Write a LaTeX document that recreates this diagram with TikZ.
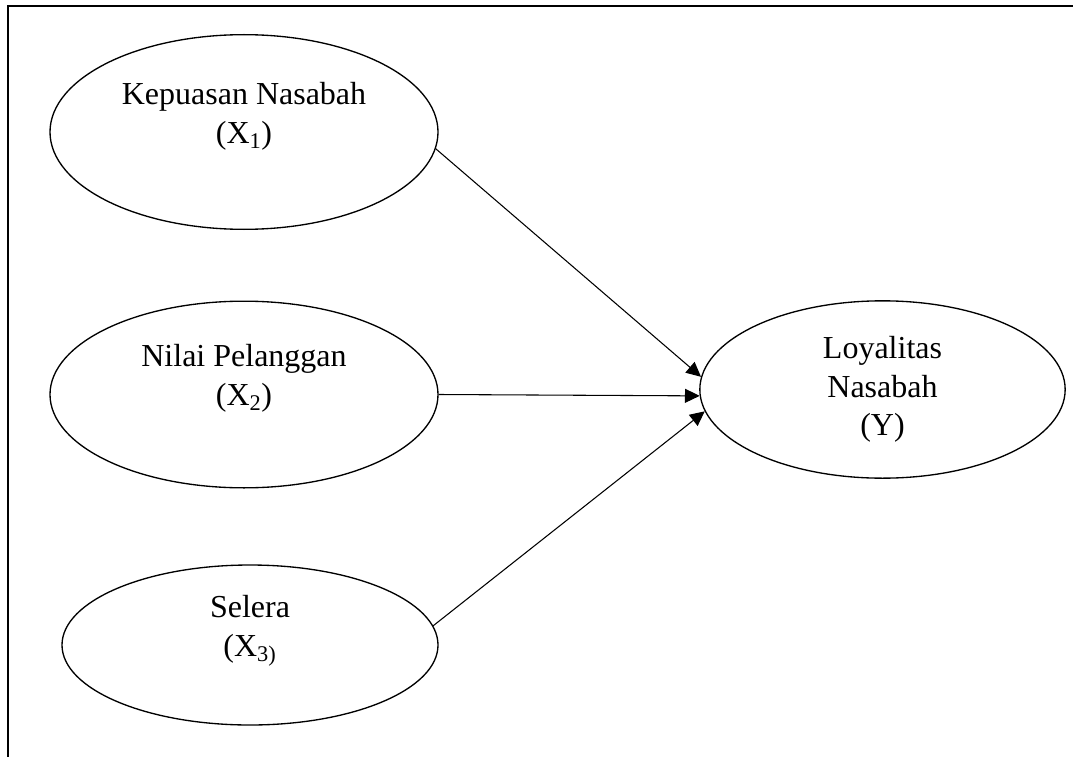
\documentclass[tikz,border=0pt]{standalone}
\usepackage{fontspec}
\setmainfont{Liberation Serif}
\usetikzlibrary{shapes.geometric, arrows.meta}

\begin{document}
\begin{tikzpicture}[x=0.75pt, y=-0.75pt,
        variabel/.style={draw, ellipse, line width=1pt, inner sep=0pt, align=center, font=\fontsize{24}{29}\selectfont},
        panah/.style={-{Triangle[length=11pt, width=10.5pt]}, line width=0.8pt}]
        \useasboundingbox (0,0) rectangle (1073,756);
        \draw[line width=1.3pt] (8,760) |- (1080,6);

        \node[variabel, minimum width=291pt, minimum height=146pt] at (244,132) (kepuasan) {Kepuasan Nasabah\\(X\textsubscript{1})\\\mbox{}};
        \node[variabel, minimum width=291pt, minimum height=140pt] at (244,394.5) (nilai) {Nilai Pelanggan\\(X\textsubscript{2})\\\mbox{}};
        \node[variabel, minimum width=282pt, minimum height=120pt] at (250,645) (selera) {Selera\\(X\textsubscript{3)}\\\mbox{}};
        \node[variabel, minimum width=274pt, minimum height=133pt] at (882.5,389.5) (loyalitas) {Loyalitas\\Nasabah\\(Y)};

        \draw[panah] (kepuasan.-5) -- (loyalitas.176);
        \draw[panah] (nilai.east) -- (loyalitas.182);
        \draw[panah] (selera.6) -- (loyalitas.187);
    \end{tikzpicture}
\end{document}
